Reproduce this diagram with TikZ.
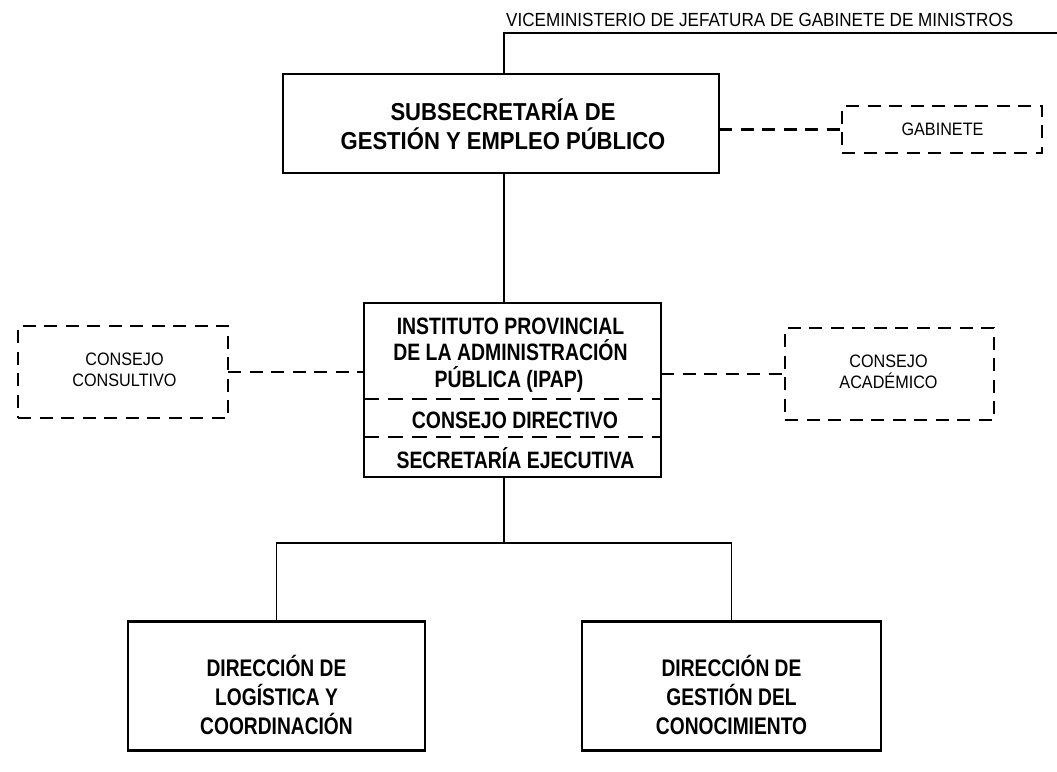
\documentclass[tikz,border=0pt]{standalone}
\usepackage{fontspec}
\setmainfont{Liberation Sans}
\newfontfamily\fA[FakeStretch=0.9]{Liberation Sans}
\newfontfamily\fB[FakeStretch=0.82]{Liberation Sans}
\newfontfamily\fD[FakeStretch=0.8]{Liberation Sans}
\begin{document}
\begin{tikzpicture}[x=1pt,y=-1pt,
  box/.style={draw, line width=2.6pt, inner sep=0pt, outer sep=0pt},
  dbox/.style={draw, line width=2.4pt, dash pattern=on 13pt off 8.5pt, inner sep=0pt, outer sep=0pt},
  thinline/.style={line width=1.3pt},
  dcon/.style={line width=2.4pt, dash pattern=on 13pt off 8.5pt},
  divline/.style={line width=2.2pt, dash pattern=on 15pt off 9pt},
  lbl/.style={inner sep=0pt, anchor=base, font=\fA\fontsize{18}{21}\selectfont},
  toptxt/.style={inner sep=0pt, anchor=base, font=\fA\bfseries\fontsize{24.5}{29}\selectfont},
  midtxt/.style={inner sep=0pt, anchor=base, font=\fB\bfseries\fontsize{23.7}{27}\selectfont},
  bottxt/.style={inner sep=0pt, anchor=base, font=\fD\bfseries\fontsize{24}{29}\selectfont}]
\useasboundingbox (0,0) rectangle (1057,771);

% header
\node[inner sep=0pt, anchor=base west, font=\fA\fontsize{19}{22}\selectfont] (vice) at (506,27) {VICEMINISTERIO DE JEFATURA DE GABINETE DE MINISTROS};
\coordinate (corner) at (504,33);
\coordinate (edge) at (1057,33);

% top box
\node[box, minimum width=436pt, minimum height=99pt] (top) at (501,123.5) {};
\node[toptxt] (t1) at (503,120) {SUBSECRETARÍA DE};
\node[toptxt] (t2) at (503,149) {GESTIÓN Y EMPLEO PÚBLICO};

% gabinete
\node[dbox, minimum width=200pt, minimum height=47pt] (gab) at (942,129.5) {};
\node[lbl] (gabt) at (942.5,135.7) {GABINETE};

% IPAP
\node[box, minimum width=297pt, minimum height=174pt] (ipap) at (512.5,390) {};
\node[midtxt] (i1) at (510.5,334) {INSTITUTO PROVINCIAL};
\node[midtxt] (i2) at (510.5,360.5) {DE LA ADMINISTRACIÓN};
\node[midtxt] (i3) at (509,387) {PÚBLICA (IPAP)};
\node[midtxt] (cdir) at (515,428.5) {CONSEJO DIRECTIVO};
\node[midtxt] (sej) at (515.5,468) {SECRETARÍA EJECUTIVA};
\coordinate (dA) at (364,399);
\coordinate (dB) at (364,437);
\draw[divline] (dA) -- (dA -| ipap.east);
\draw[divline] (dB) -- (dB -| ipap.east);

% consejos
\node[dbox, minimum width=210pt, minimum height=92pt] (cc) at (123,372) {};
\node[lbl] (cc1) at (124.5,365) {CONSEJO};
\node[lbl] (cc2) at (124.5,386) {CONSULTIVO};
\node[dbox, minimum width=209pt, minimum height=92pt] (ca) at (889.5,374) {};
\node[lbl] (ca1) at (888.5,367) {CONSEJO};
\node[lbl] (ca2) at (888.5,388) {ACADÉMICO};

% bottom boxes
\node[box, minimum width=297pt, minimum height=129pt] (d1) at (276.5,686) {};
\node[bottxt] (d1a) at (276.5,676) {DIRECCIÓN DE};
\node[bottxt] (d1b) at (276.5,705) {LOGÍSTICA Y};
\node[bottxt] (d1c) at (276.5,734) {COORDINACIÓN};
\node[box, minimum width=299pt, minimum height=129pt] (d2) at (731.5,686) {};
\node[bottxt] (d2a) at (731.5,676) {DIRECCIÓN DE};
\node[bottxt] (d2b) at (731.5,705) {GESTIÓN DEL};
\node[bottxt] (d2c) at (731.5,734) {CONOCIMIENTO};
\coordinate (branch) at (504,543);

% connectors
\draw[thinline] (edge) -- (corner) -- (corner |- top.north);
\draw[thinline] (corner |- top.south) -- (corner |- ipap.north);
\draw[dcon] (top.east |- gab.west) -- (gab.west);
\draw[dcon] (cc.east) -- (cc.east -| ipap.west);
\draw[dcon] (ca.west -| ipap.east) -- (ca.west);
\draw[thinline] (corner |- ipap.south) -- (branch);
\draw[thinline] (d1.north) -- (d1.north |- branch) -- (d2.north |- branch) -- (d2.north);
\end{tikzpicture}
\end{document}
